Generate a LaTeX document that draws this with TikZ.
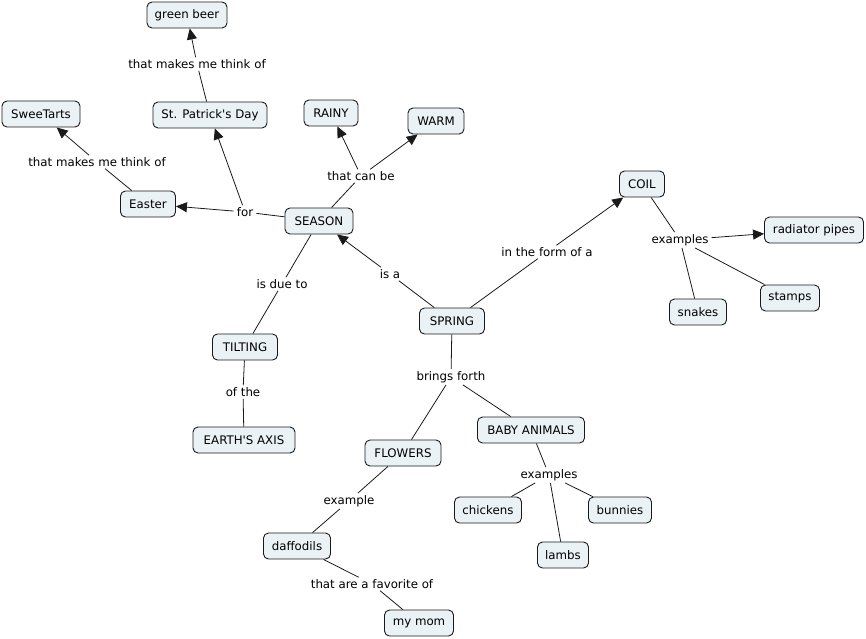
\documentclass[tikz,border=0pt]{standalone}
\usepackage{fontspec}
\setmainfont{DejaVu Sans}
\usetikzlibrary{arrows.meta}
\definecolor{cfill}{HTML}{EBF2F5}
\definecolor{cline}{HTML}{1A1A1A}
\tikzset{
  cn/.style={draw=cline, fill=cfill, rounded corners=5pt, line width=0.9pt,
    minimum height=26pt, inner xsep=3pt, inner ysep=0pt, font=\fontsize{11.8}{13}\selectfont, text=black},
  lbl/.style={inner xsep=3pt, inner ysep=2pt, font=\fontsize{11.8}{13}\selectfont, text=black},
  ln/.style={draw=cline, line width=0.8pt},
  ar/.style={ln, -{Triangle[length=11pt,width=10pt]}}
}
\begin{document}
\begin{tikzpicture}[x=1pt,y=-1pt]
\useasboundingbox (0,0) rectangle (866,638);
% concepts
\node[cn, minimum width=80pt] (gb) at (187,15) {green beer};
\node[cn, minimum width=78pt] (sw) at (41,114) {SweeTarts};
\node[cn, minimum width=114pt] (sp) at (210,115) {St. Patrick\textquotesingle s Day};
\node[cn, minimum width=54pt] (ra) at (331,113) {RAINY};
\node[cn, minimum width=56pt] (wa) at (436,121) {WARM};
\node[cn, minimum width=55pt] (ea) at (148,204) {Easter};
\node[cn, minimum width=68pt] (se) at (319,221) {SEASON};
\node[cn, minimum width=45pt] (co) at (642,184) {COIL};
\node[cn, minimum width=99pt] (rp) at (814,230) {radiator pipes};
\node[cn, minimum width=59pt] (st) at (790,298) {stamps};
\node[cn, minimum width=57pt] (sn) at (698,312) {snakes};
\node[cn, minimum width=65pt] (spr) at (452,321) {SPRING};
\node[cn, minimum width=65pt] (ti) at (245,347) {TILTING};
\node[cn, minimum width=102pt] (eax) at (244,440) {EARTH\textquotesingle S AXIS};
\node[cn, minimum width=76pt] (fl) at (403,453) {FLOWERS};
\node[cn, minimum width=107pt] (ba) at (531,430) {BABY ANIMALS};
\node[cn, minimum width=67pt] (ch) at (488,510) {chickens};
\node[cn, minimum width=63pt] (bu) at (620,510) {bunnies};
\node[cn, minimum width=51pt] (la) at (563,555) {lambs};
\node[cn, minimum width=67pt] (da) at (297,546) {daffodils};
\node[cn, minimum width=69pt] (mm) at (419,623) {my mom};
% link labels
\node[lbl] (l1) at (197,64) {that makes me think of};
\node[lbl] (l2) at (97,162) {that makes me think of};
\node[lbl] (l3) at (245,212) {for};
\node[lbl] (l4) at (361,176) {that can be};
\node[lbl] (l5) at (282,284) {is due to};
\node[lbl] (l6) at (390,274) {is a};
\node[lbl] (l7) at (547,252) {in the form of a};
\node[lbl] (l8) at (680,240) {examples};
\node[lbl] (l9) at (451,377) {brings forth};
\node[lbl] (l10) at (243,392) {of the};
\node[lbl] (l11) at (549,475) {examples};
\node[lbl] (l12) at (349,501) {example};
\node[lbl] (l13) at (372,584) {that are a favorite of};
% connectors
\draw[ln] (sp) -- (l1); \draw[ar] (l1) -- (gb);
\draw[ln] (ea) -- (l2); \draw[ar] (l2) -- (sw);
\draw[ln] (se) -- (l3); \draw[ar] (l3) -- (ea); \draw[ar] (l3) -- (sp);
\draw[ln] (se) -- (l4); \draw[ar] (l4) -- (ra); \draw[ar] (l4) -- (wa);
\draw[ln] (se) -- (l5); \draw[ln] (l5) -- (ti);
\draw[ln] (spr) -- (l6); \draw[ar] (l6) -- (se);
\draw[ln] (spr) -- (l7); \draw[ar] (l7) -- (co);
\draw[ln] (co) -- (l8); \draw[ar] (l8) -- (rp); \draw[ln] (l8) -- (st); \draw[ln] (l8) -- (sn);
\draw[ln] (spr) -- (l9); \draw[ln] (l9) -- (fl); \draw[ln] (l9) -- (ba);
\draw[ln] (ti) -- (l10); \draw[ln] (l10) -- (eax);
\draw[ln] (ba) -- (l11); \draw[ln] (l11) -- (ch); \draw[ln] (l11) -- (bu); \draw[ln] (l11) -- (la);
\draw[ln] (fl) -- (l12); \draw[ln] (l12) -- (da);
\draw[ln] (da) -- (l13); \draw[ln] (l13) -- (mm);
\end{tikzpicture}
\end{document}
